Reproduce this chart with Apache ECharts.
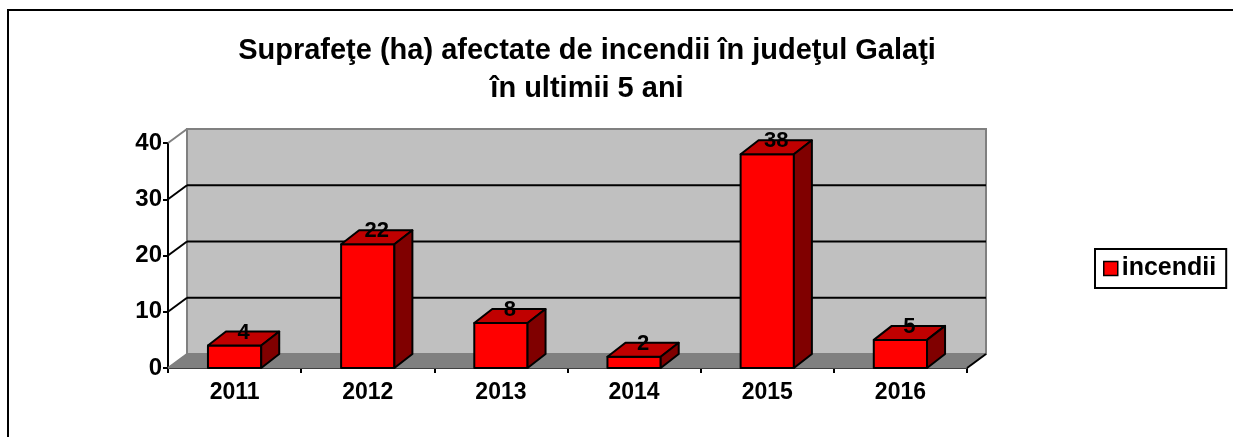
<!DOCTYPE html>
<html>
<head>
<meta charset="utf-8">
<script src="https://cdn.jsdelivr.net/npm/echarts@6/dist/echarts.min.js"></script>
<style>
  html, body { margin: 0; background: #fff; }
  #chart { width: 1233px; height: 437px; }
</style>
</head>
<body>
<div id="chart"></div>
<script>
const years = ['2011', '2012', '2013', '2014', '2015', '2016']
const incendii = [4, 22, 8, 2, 38, 5]
const yTicks = [0, 10, 20, 30, 40]

// depth of the fake 3d walls and bars
const WX = 19, WY = -14
const BX = 18, BY = -14
const FONT = '"Liberation Sans", Arial, sans-serif'

const chart = echarts.init(document.getElementById('chart'))

const renderWall = (params, api) => {
  const cs = params.coordSys
  const x0 = cs.x, x1 = cs.x + cs.width
  const yt = cs.y, yb = cs.y + cs.height
  const children = []
  children.push({
    type: 'rect',
    shape: { x: x0 + WX, y: yt + WY, width: cs.width, height: cs.height },
    style: { fill: '#C0C0C0', stroke: '#808080', lineWidth: 2 }
  })
  children.push({
    type: 'polygon',
    shape: { points: [[x0, yb], [x1, yb], [x1 + WX, yb + WY], [x0 + WX, yb + WY]] },
    style: { fill: '#808080', stroke: '#808080', lineWidth: 1 }
  })
  yTicks.forEach((v) => {
    if (v === 0) return
    const y = api.coord([0, v])[1]
    const top = v === yTicks[yTicks.length - 1]
    if (!top) {
      children.push({
        type: 'line',
        shape: { x1: x0 + WX, y1: y + WY, x2: x1 + WX, y2: y + WY },
        style: { stroke: '#000', lineWidth: 2 }
      })
    }
    children.push({
      type: 'line',
      shape: { x1: x0, y1: y, x2: x0 + WX, y2: y + WY },
      style: { stroke: top ? '#808080' : '#000', lineWidth: 2 }
    })
  })
  children.push({
    type: 'line',
    shape: { x1: x1, y1: yb, x2: x1 + WX, y2: yb + WY },
    style: { stroke: '#000', lineWidth: 2 }
  })
  children.push({
    type: 'line',
    shape: { x1: x0, y1: yb, x2: x0 + WX, y2: yb + WY },
    style: { stroke: '#808080', lineWidth: 2 }
  })
  return { type: 'group', children }
}

const renderBar = (params, api) => {
  const i = api.value(0)
  const v = api.value(1)
  const top = api.coord([i, v])
  const base = api.coord([i, 0])
  const bw = api.size([1, 0])[0] * 0.4
  const l = top[0] - bw / 2
  const r = top[0] + bw / 2
  const t = top[1]
  const b = base[1]
  const edge = { stroke: '#000', lineWidth: 2, lineJoin: 'round' }
  return {
    type: 'group',
    children: [{
      type: 'polygon',
      shape: { points: [[l, t], [r, t], [r, b], [l, b]] },
      style: Object.assign({ fill: '#FF0000' }, edge)
    }, {
      type: 'polygon',
      shape: { points: [[l, t], [r, t], [r + BX, t + BY], [l + BX, t + BY]] },
      style: Object.assign({ fill: '#C00000' }, edge)
    }, {
      type: 'polygon',
      shape: { points: [[r, t], [r + BX, t + BY], [r + BX, b + BY], [r, b]] },
      style: Object.assign({ fill: '#800000' }, edge)
    }, {
      type: 'text',
      x: top[0] + BX / 2,
      y: t + BY + 1,
      style: {
        text: String(v),
        fill: '#000',
        font: 'bold 22px ' + FONT,
        align: 'center',
        verticalAlign: 'middle'
      }
    }]
  }
}

const options = {
  animation: false,
  textStyle: { fontFamily: FONT },
  title: {
    text: 'Suprafeţe (ha) afectate de incendii în judeţul Galaţi\nîn ultimii 5 ani',
    left: 582,
    top: 27,
    textAlign: 'center',
    textStyle: {
      fontFamily: FONT,
      fontWeight: 'bold',
      fontSize: 29,
      lineHeight: 38,
      color: '#000'
    }
  },
  legend: {
    left: 1095,
    top: 249,
    orient: 'vertical',
    padding: [7, 10, 7, 8],
    borderColor: '#000',
    borderWidth: 2,
    itemWidth: 14,
    itemHeight: 14,
    itemGap: 4,
    data: [{ name: 'incendii', icon: 'rect' }],
    itemStyle: { color: '#FF0000', borderColor: '#000', borderWidth: 1.5 },
    textStyle: {
      fontFamily: FONT,
      fontWeight: 'bold',
      fontSize: 25,
      color: '#000',
      padding: [0, 0, 0, -1]
    }
  },
  graphic: [{
    type: 'rect',
    shape: { x: 8, y: 10, width: 1240, height: 440 },
    style: { fill: 'none', stroke: '#000', lineWidth: 2 },
    silent: true
  }],
  grid: {
    left: 168,
    right: 266,
    top: 143,
    bottom: 69
  },
  xAxis: {
    type: 'category',
    data: years,
    axisLine: { lineStyle: { color: '#000', width: 2 } },
    axisTick: { show: true, length: 5, lineStyle: { color: '#000', width: 2 } },
    axisLabel: {
      margin: 13,
      color: '#000',
      fontFamily: FONT,
      fontWeight: 'bold',
      fontSize: 23
    },
    splitLine: { show: false }
  },
  yAxis: {
    type: 'value',
    min: 0,
    max: 40,
    interval: 10,
    axisLine: { show: true, lineStyle: { color: '#000', width: 2 } },
    axisTick: { show: true, length: 5, lineStyle: { color: '#000', width: 2 } },
    axisLabel: {
      margin: 6,
      color: '#000',
      fontFamily: FONT,
      fontWeight: 'bold',
      fontSize: 24
    },
    splitLine: { show: false }
  },
  series: [{
    type: 'custom',
    name: 'wall',
    renderItem: renderWall,
    data: [0],
    z: 1,
    silent: true
  }, {
    type: 'custom',
    name: 'incendii',
    renderItem: renderBar,
    itemStyle: { color: '#FF0000' },
    encode: { x: 0, y: 1 },
    data: incendii.map((v, i) => [i, v]),
    z: 3
  }]
}
chart.setOption(options)
</script>
</body>
</html>
